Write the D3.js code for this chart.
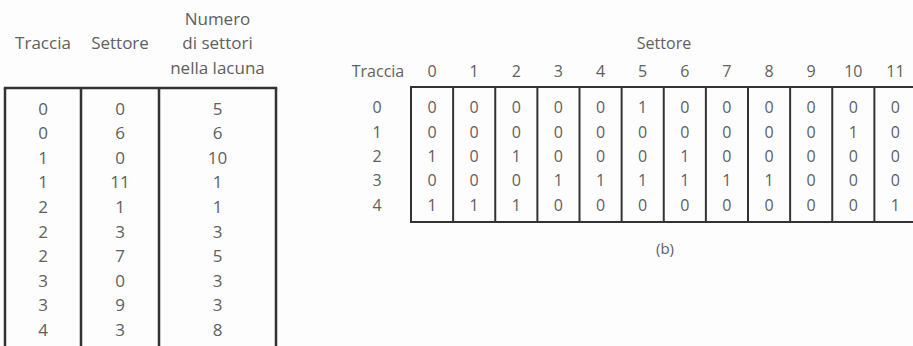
<!DOCTYPE html>
<html><head><meta charset="utf-8">
<script src="https://cdn.jsdelivr.net/npm/d3@7"></script>
<style>
html,body{margin:0;padding:0;background:#fdfdfd;}
svg{display:block;}
text{font-family:"Open Sans","Lato",sans-serif;fill:#606060;}
</style></head>
<body>
<script>
// ---- Data ----
const leftHeaders = [["Traccia"], ["Settore"], ["Numero", "di settori", "nella lacuna"]];
const leftTracks  = [0, 0, 1, 1, 2, 2, 2, 3, 3, 4];
const leftSectors = [0, 6, 0, 11, 1, 3, 7, 0, 9, 3];
const leftGaps    = [5, 6, 10, 1, 1, 3, 5, 3, 3, 8];

const rightTitle = "Settore";
const rowTitle = "Traccia";
const sectors = [0, 1, 2, 3, 4, 5, 6, 7, 8, 9, 10, 11];
const tracks = [0, 1, 2, 3, 4];
const bitmap = [
  [0, 0, 0, 0, 0, 1, 0, 0, 0, 0, 0, 0],
  [0, 0, 0, 0, 0, 0, 0, 0, 0, 0, 1, 0],
  [1, 0, 1, 0, 0, 0, 1, 0, 0, 0, 0, 0],
  [0, 0, 0, 1, 1, 1, 1, 1, 1, 0, 0, 0],
  [1, 1, 1, 0, 0, 0, 0, 0, 0, 0, 0, 1]
];
const caption = "(b)";

// ---- Layout ----
const W = 913, H = 346;
const svg = d3.select("body").append("svg").attr("width", W).attr("height", H);
const lineColor = "#333";

// Left table
const leftEdges = [5, 81, 159, 276];
const lx = i => (leftEdges[i] + leftEdges[i + 1]) / 2;
const leftTop = 88;
const leftRowY = d3.scaleLinear().domain([0, 1]).range([108, 132.6]);
const left = svg.append("g");
leftHeaders.forEach((lines, i) => {
  const startY = lines.length === 1 ? 42 : 18;
  lines.forEach((t, k) => {
    left.append("text").attr("x", lx(i)).attr("y", startY + k * 24.5)
      .attr("text-anchor", "middle").attr("dominant-baseline", "central")
      .style("font-size", "17px").text(t);
  });
});
left.append("line").attr("x1", leftEdges[0] - 1.2).attr("x2", leftEdges[3] + 1.2)
  .attr("y1", leftTop).attr("y2", leftTop).attr("stroke", lineColor).attr("stroke-width", 2.5);
leftEdges.forEach(xx => {
  left.append("line").attr("x1", xx).attr("x2", xx).attr("y1", leftTop).attr("y2", H)
    .attr("stroke", lineColor).attr("stroke-width", 2.5);
});
[leftTracks, leftSectors, leftGaps].forEach((col, i) => {
  left.selectAll(null).data(col).enter().append("text")
    .attr("x", lx(i)).attr("y", (d, r) => leftRowY(r))
    .attr("text-anchor", "middle").attr("dominant-baseline", "central")
    .style("font-size", "17px").text(d => d);
});

// Right table
const x = d3.scaleBand().domain(sectors).range([411, 916.5]).padding(0);
const rTop = 87, rBottom = 222;
const y = d3.scaleBand().domain(tracks).range([95, 217]).padding(0);
const right = svg.append("g");
right.append("text").attr("x", 664).attr("y", 43).attr("text-anchor", "middle")
  .attr("dominant-baseline", "central").style("font-size", "16px").text(rightTitle);
right.append("text").attr("x", 378).attr("y", 71).attr("text-anchor", "middle")
  .attr("dominant-baseline", "central").style("font-size", "16px").text(rowTitle);
right.selectAll(".colh").data(sectors).enter().append("text")
  .attr("x", d => x(d) + x.bandwidth() / 2).attr("y", 71)
  .attr("text-anchor", "middle").attr("dominant-baseline", "central")
  .style("font-size", "16px").text(d => d);
right.selectAll(".rowh").data(tracks).enter().append("text")
  .attr("x", 377).attr("y", d => y(d) + y.bandwidth() / 2)
  .attr("text-anchor", "middle").attr("dominant-baseline", "central")
  .style("font-size", "16px").text(d => d);
right.append("line").attr("x1", 410).attr("x2", W).attr("y1", rTop).attr("y2", rTop)
  .attr("stroke", lineColor).attr("stroke-width", 2.2);
right.append("line").attr("x1", 410).attr("x2", W).attr("y1", rBottom).attr("y2", rBottom)
  .attr("stroke", lineColor).attr("stroke-width", 2.2);
right.selectAll(".vl").data(sectors).enter().append("line")
  .attr("x1", d => x(d)).attr("x2", d => x(d)).attr("y1", rTop).attr("y2", rBottom)
  .attr("stroke", lineColor).attr("stroke-width", 2);
tracks.forEach((t, r) => {
  right.selectAll(null).data(bitmap[r]).enter().append("text")
    .attr("x", (d, c) => x(sectors[c]) + x.bandwidth() / 2)
    .attr("y", y(t) + y.bandwidth() / 2)
    .attr("text-anchor", "middle").attr("dominant-baseline", "central")
    .style("font-size", "16px").text(d => d);
});
right.append("text").attr("x", 665).attr("y", 248).attr("text-anchor", "middle")
  .attr("dominant-baseline", "central").style("font-size", "15px").text(caption);
</script>
</body></html>
